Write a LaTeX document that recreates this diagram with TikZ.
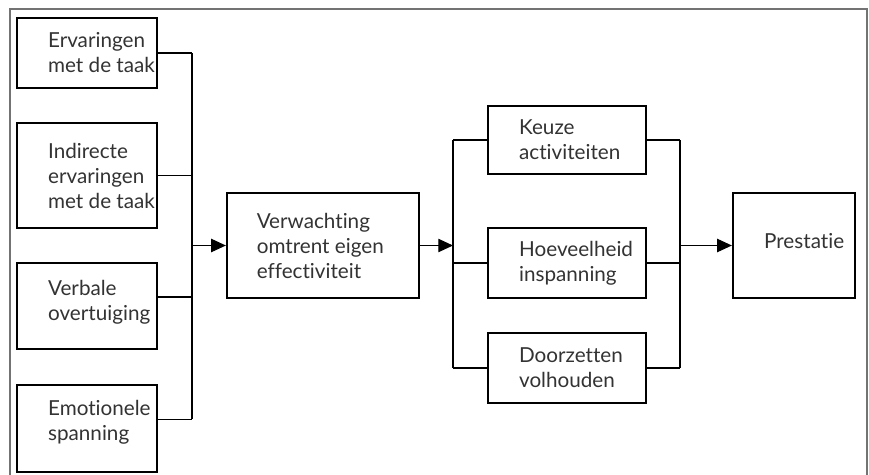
\documentclass[tikz,border=0pt]{standalone}
\usepackage{fontspec}
\setmainfont{Lato}[Ligatures=NoCommon]
\usetikzlibrary{arrows.meta}

\tikzset{
  kader/.style={draw, line width=1.7pt, inner sep=0pt},
  tekst/.style={anchor=west, align=left, inner sep=0pt, text=black!80,
    font=\fontsize{15.5}{18.75}\selectfont},
  lijn/.style={line width=0.8pt},
  pijl/.style={lijn, -{Triangle[length=11pt,width=10pt]}},
}

\begin{document}
\begin{tikzpicture}[x=0.75pt, y=-0.75pt]
  \useasboundingbox (0,0) rectangle (869,475);
  % open frame round the figure
  \draw[black!55, line width=1pt] (10,475) -- (10,9) -- (867,9) -- (867,475);

  % bronnen
  \node[kader, minimum width=105pt, minimum height=52.5pt] (e1) at (87,53) {};
  \node[kader, minimum width=105pt, minimum height=78.75pt] (e2) at (87,175.5) {};
  \node[kader, minimum width=105pt, minimum height=64.5pt] (e3) at (87,306) {};
  \node[kader, minimum width=105pt, minimum height=65.25pt] (e4) at (87,428.5) {};
  \node[tekst] (e1t) at ([xshift=24pt]e1.west) {Ervaringen\\met de taak};
  \node[tekst] (e2t) at ([xshift=24pt]e2.west) {Indirecte\\ervaringen\\met de taak};
  \node[tekst] (e3t) at ([xshift=24pt,yshift=3pt]e3.west) {Verbale\\overtuiging};
  \node[tekst] (e4t) at ([xshift=24pt,yshift=5pt]e4.west) {Emotionele\\spanning};

  % verwachting
  \node[kader, minimum width=144pt, minimum height=78.75pt] (verw) at (323,245.5) {};
  \node[tekst] (verwt) at ([xshift=23pt]verw.west) {Verwachting\\omtrent eigen\\effectiviteit};

  % gevolgen
  \node[kader, minimum width=118.5pt, minimum height=51pt] (keuze) at (567,140) {};
  \node[kader, minimum width=118.5pt, minimum height=52.5pt] (hoev) at (567,263) {};
  \node[kader, minimum width=118.5pt, minimum height=52.5pt] (door) at (567,368) {};
  \node[tekst] (keuzet) at ([xshift=24pt]keuze.west) {Keuze\\activiteiten};
  \node[tekst] (hoevt) at ([xshift=24pt]hoev.west) {Hoeveelheid\\inspanning};
  \node[tekst] (doort) at ([xshift=24pt]door.west) {Doorzetten\\volhouden};

  \node[kader, minimum width=91.5pt, minimum height=78.75pt] (prest) at (794,245.5) {};
  \node[tekst] (prestt) at ([xshift=24pt,yshift=3pt]prest.west) {Prestatie};

  % verzamellijnen
  \coordinate (busin) at (192,244);
  \coordinate (busmid) at (453,244);
  \coordinate (busuit) at (680,244);

  \draw[lijn] (e1.east) -- (e1.east -| busin);
  \draw[lijn] (e2.east) -- (e2.east -| busin);
  \draw[lijn] ([yshift=6.75pt]e3.east) -- ([yshift=6.75pt]e3.east -| busin);
  \draw[lijn] ([yshift=7pt]e4.east) -- ([yshift=7pt]e4.east -| busin);
  \draw[lijn] (e1.east -| busin) -- ([yshift=7pt]e4.east -| busin);
  \draw[pijl] (verw.west -| busin) -- (verw.west);

  \draw[pijl] (verw.east) -- (verw.east -| busmid);
  \draw[lijn] (keuze.west -| busmid) -- (door.west -| busmid);
  \draw[lijn] (keuze.west -| busmid) -- (keuze.west);
  \draw[lijn] (hoev.west -| busmid) -- (hoev.west);
  \draw[lijn] (door.west -| busmid) -- (door.west);

  \draw[lijn] (keuze.east) -- (keuze.east -| busuit);
  \draw[lijn] (hoev.east) -- (hoev.east -| busuit);
  \draw[lijn] (door.east) -- (door.east -| busuit);
  \draw[lijn] (keuze.east -| busuit) -- (door.east -| busuit);
  \draw[pijl] (prest.west -| busuit) -- (prest.west);
\end{tikzpicture}
\end{document}
